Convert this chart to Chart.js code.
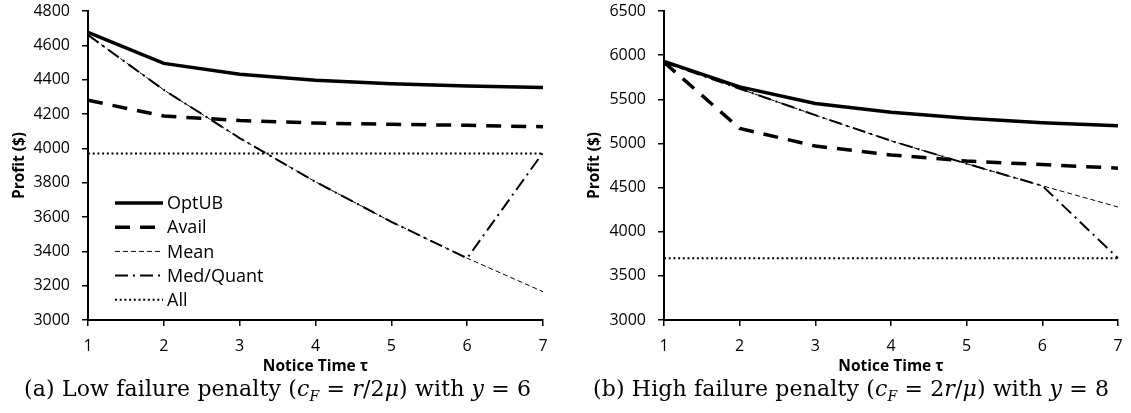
<!DOCTYPE html>
<html>
<head>
<meta charset="utf-8">
<script src="https://cdn.jsdelivr.net/npm/chart.js@4"></script>
<style>
  body { margin: 0; background: #fff; width: 1131px; height: 413px; position: relative; overflow: hidden; }
  .box { position: absolute; top: 0; height: 378px; }
  .cap { position: absolute; top: 376px; font-family: "DejaVu Serif", serif; font-size: 22px; letter-spacing: 0.15px; white-space: nowrap; color: #000; }
</style>
</head>
<body>
<div class="box" style="left:0;width:560px"><canvas id="chartA"></canvas></div>
<div class="box" style="left:575px;width:556px"><canvas id="chartB"></canvas></div>
<div class="cap" id="capA" style="left:24px">(a) Low failure penalty (<i>c<sub style="font-size:14px">F</sub></i> = <i>r</i>/2<i>μ</i>) with <i>y</i> = 6</div>
<div class="cap" id="capB" style="left:593px">(b) High failure penalty (<i>c<sub style="font-size:14px">F</sub></i> = 2<i>r</i>/<i>μ</i>) with <i>y</i> = 8</div>
<script>
// notice time tau
const tau = ['1', '2', '3', '4', '5', '6', '7'];

// (a) low failure penalty
const optubA = [4675, 4495, 4432, 4397, 4376, 4363, 4355];
const availA = [4280, 4188, 4162, 4147, 4140, 4134, 4126];
const meanA = [4660, 4340, 4060, 3805, 3572, 3360, 3165];
const medA = [4660, 4340, 4060, 3805, 3572, 3360, 3975];
const allA = [3970, 3970, 3970, 3970, 3970, 3970, 3970];

// (b) high failure penalty
const optubB = [5930, 5640, 5452, 5352, 5285, 5235, 5200];
const availB = [5920, 5170, 4970, 4870, 4800, 4760, 4720];
const meanB = [5920, 5620, 5320, 5030, 4770, 4520, 4280];
const medB = [5920, 5620, 5320, 5030, 4770, 4520, 3700];
const allB = [3700, 3700, 3700, 3700, 3700, 3700, 3700];

const names = ['OptUB', 'Avail', 'Mean', 'Med/Quant', 'All'];

const styles = [
  { borderWidth: 3.5, borderDash: [] },
  { borderWidth: 3.5, borderDash: [15, 10] },
  { borderWidth: 1, borderDash: [5, 3] },
  { borderWidth: 2, borderDash: [13, 5, 2, 5] },
  { borderWidth: 2, borderDash: [2, 2.7] }
];

// legend drawn inside the plot, like the excel one
const insideLegend = {
  id: 'insideLegend',
  afterDatasetsDraw(chart, args, opts) {
    if (!opts.show) return;
    const ctx = chart.ctx;
    const a = chart.chartArea;
    chart.data.datasets.forEach(function (ds, i) {
      const y = a.top + opts.top + i * opts.rowH;
      const x = a.left + opts.left;
      ctx.save();
      ctx.strokeStyle = '#000';
      ctx.lineWidth = ds.borderWidth;
      ctx.setLineDash(ds.borderDash);
      ctx.beginPath();
      ctx.moveTo(x, y);
      ctx.lineTo(x + opts.sample, y);
      ctx.stroke();
      ctx.setLineDash([]);
      ctx.fillStyle = '#000';
      ctx.font = '18px "Open Sans"';
      ctx.textBaseline = 'middle';
      ctx.fillText(ds.label, x + opts.sample + 4, y + 1);
      ctx.restore();
    });
  }
};

function makeChart(id, series, yMin, yMax, step, yWidth, padRight, legend) {
  const datasets = series.map(function (vals, i) {
    return {
      label: names[i],
      data: vals,
      borderColor: '#000',
      backgroundColor: '#000',
      borderWidth: styles[i].borderWidth,
      borderDash: styles[i].borderDash,
      pointRadius: 0,
      tension: 0,
      fill: false
    };
  });

  return new Chart(document.getElementById(id), {
    type: 'line',
    data: { labels: tau, datasets: datasets },
    plugins: [insideLegend],
    options: {
      responsive: true,
      maintainAspectRatio: false,
      animation: false,
      layout: { padding: { top: 11, right: padRight, bottom: 0, left: 0 } },
      plugins: {
        legend: { display: false },
        tooltip: { enabled: false },
        insideLegend: { show: legend, top: 192, left: 27, rowH: 24.2, sample: 48 }
      },
      scales: {
        x: {
          border: { color: '#000', width: 2 },
          grid: { drawOnChartArea: false, color: '#000', tickLength: 6, lineWidth: 1.5 },
          ticks: { color: '#000', font: { family: 'Open Sans', size: 16 }, padding: 11, maxRotation: 0 },
          title: { display: true, text: 'Notice Time τ', color: '#000', font: { family: 'Open Sans', size: 15.5, weight: 'bold' }, padding: { top: 0, bottom: 2 } },
          afterFit: function (s) { s.height = 58; s.paddingLeft = 0; s.paddingRight = 0; }
        },
        y: {
          min: yMin,
          max: yMax,
          border: { color: '#000', width: 2 },
          grid: { drawOnChartArea: false, color: '#000', tickLength: 6, lineWidth: 1.5 },
          ticks: {
            stepSize: step, color: '#000', font: { family: 'Open Sans', size: 16 }, padding: 12,
            callback: function (v) { return String(v); }
          },
          title: { display: true, text: 'Profit ($)', color: '#000', font: { family: 'Open Sans', size: 15.5, weight: 'bold' }, padding: { top: 10, bottom: 0 } },
          afterFit: function (s) { s.width = yWidth; s.paddingTop = 0; s.paddingBottom = 0; }
        }
      }
    }
  });
}

makeChart('chartA', [optubA, availA, meanA, medA, allA], 3000, 4800, 200, 88, 17, true);
makeChart('chartB', [optubB, availB, meanB, medB, allB], 3000, 6500, 500, 89, 13, false);
</script>
</body>
</html>
